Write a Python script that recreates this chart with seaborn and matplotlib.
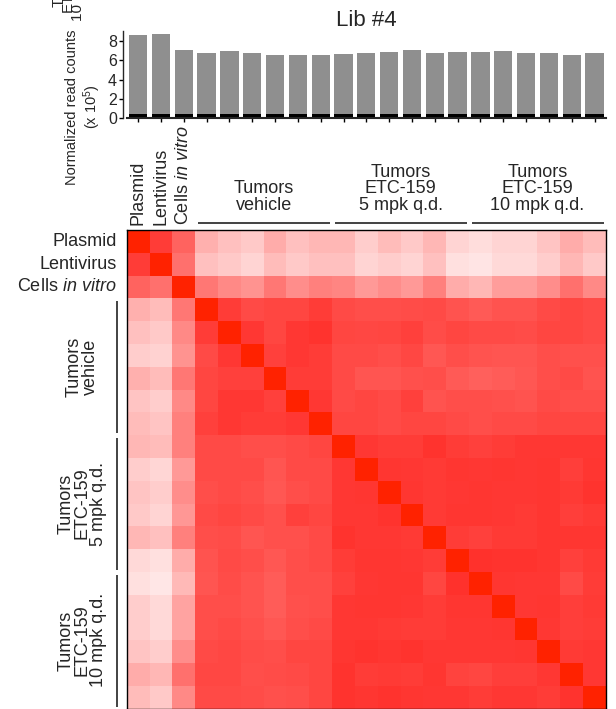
import numpy as np
import pandas as pd
import matplotlib
matplotlib.use("Agg")
import matplotlib.pyplot as plt
import seaborn as sns
from matplotlib.colors import LinearSegmentedColormap

# samples (bars and heatmap rows/columns share the same order)
samples = ["Plasmid", "Lentivirus", "Cells in vitro",
           "Veh 1", "Veh 2", "Veh 3", "Veh 4", "Veh 5", "Veh 6",
           "ETC5 1", "ETC5 2", "ETC5 3", "ETC5 4", "ETC5 5", "ETC5 6",
           "ETC10 1", "ETC10 2", "ETC10 3", "ETC10 4", "ETC10 5", "ETC10 6"]
row_labels = ["Plasmid", "Lentivirus", "Cells $\\mathit{in\\ vitro}$"]

# normalized read counts (x 10^5)
total_counts = [8.7, 8.8, 7.1, 6.8, 7.0, 6.8, 6.6, 6.6, 6.6, 6.7, 6.8,
                6.9, 7.1, 6.8, 6.9, 6.9, 7.0, 6.8, 6.8, 6.6, 6.8]
low_counts = [0.4, 0.4, 0.4, 0.4, 0.4, 0.4, 0.4, 0.4, 0.4, 0.4, 0.4,
              0.4, 0.4, 0.4, 0.4, 0.4, 0.4, 0.4, 0.4, 0.4, 0.4]

# groups: label, first index, last index (exclusive)
groups = [("Tumors\nvehicle", 3, 9),
          ("Tumors\nETC-159\n5 mpk q.d.", 9, 15),
          ("Tumors\nETC-159\n10 mpk q.d.", 15, 21)]

# sample-sample similarity
corr = [
    [1.00, 0.86, 0.69, 0.35, 0.28, 0.24, 0.37, 0.28, 0.32, 0.32, 0.22, 0.30, 0.24, 0.32, 0.19, 0.15, 0.19, 0.19, 0.26, 0.37, 0.30],
    [0.86, 1.00, 0.63, 0.28, 0.24, 0.19, 0.30, 0.24, 0.28, 0.28, 0.19, 0.22, 0.19, 0.28, 0.14, 0.12, 0.17, 0.17, 0.22, 0.32, 0.24],
    [0.69, 0.63, 1.00, 0.60, 0.52, 0.48, 0.60, 0.50, 0.56, 0.54, 0.45, 0.50, 0.45, 0.56, 0.37, 0.32, 0.43, 0.43, 0.50, 0.63, 0.52],
    [0.35, 0.30, 0.60, 1.00, 0.86, 0.80, 0.82, 0.82, 0.86, 0.80, 0.78, 0.78, 0.79, 0.80, 0.76, 0.73, 0.76, 0.76, 0.80, 0.82, 0.80],
    [0.28, 0.24, 0.52, 0.86, 1.00, 0.88, 0.82, 0.88, 0.90, 0.82, 0.81, 0.82, 0.84, 0.79, 0.82, 0.80, 0.80, 0.79, 0.82, 0.82, 0.80],
    [0.22, 0.20, 0.48, 0.80, 0.88, 1.00, 0.84, 0.88, 0.86, 0.80, 0.80, 0.78, 0.81, 0.74, 0.78, 0.76, 0.75, 0.75, 0.78, 0.77, 0.77],
    [0.35, 0.30, 0.60, 0.82, 0.84, 0.84, 1.00, 0.86, 0.86, 0.80, 0.75, 0.75, 0.77, 0.78, 0.73, 0.70, 0.72, 0.74, 0.78, 0.80, 0.76],
    [0.26, 0.22, 0.52, 0.82, 0.88, 0.88, 0.84, 1.00, 0.88, 0.80, 0.82, 0.80, 0.84, 0.76, 0.78, 0.78, 0.77, 0.76, 0.80, 0.78, 0.78],
    [0.30, 0.26, 0.56, 0.84, 0.88, 0.86, 0.86, 0.88, 1.00, 0.82, 0.82, 0.80, 0.82, 0.82, 0.80, 0.78, 0.80, 0.80, 0.82, 0.82, 0.82],
    [0.32, 0.30, 0.56, 0.80, 0.80, 0.78, 0.78, 0.80, 0.82, 1.00, 0.88, 0.86, 0.86, 0.90, 0.86, 0.84, 0.86, 0.88, 0.88, 0.88, 0.88],
    [0.22, 0.18, 0.45, 0.80, 0.80, 0.80, 0.75, 0.80, 0.80, 0.88, 1.00, 0.89, 0.88, 0.87, 0.89, 0.88, 0.89, 0.88, 0.89, 0.85, 0.89],
    [0.26, 0.22, 0.50, 0.78, 0.80, 0.78, 0.74, 0.78, 0.80, 0.88, 0.89, 1.00, 0.89, 0.87, 0.88, 0.89, 0.88, 0.88, 0.89, 0.87, 0.90],
    [0.24, 0.19, 0.46, 0.80, 0.82, 0.80, 0.77, 0.84, 0.82, 0.88, 0.88, 0.90, 1.00, 0.87, 0.89, 0.89, 0.88, 0.87, 0.89, 0.85, 0.87],
    [0.32, 0.28, 0.56, 0.78, 0.79, 0.75, 0.77, 0.77, 0.80, 0.90, 0.88, 0.88, 0.87, 1.00, 0.86, 0.84, 0.87, 0.87, 0.89, 0.89, 0.89],
    [0.17, 0.14, 0.37, 0.76, 0.80, 0.78, 0.74, 0.78, 0.80, 0.86, 0.89, 0.89, 0.88, 0.86, 1.00, 0.91, 0.90, 0.90, 0.89, 0.84, 0.87],
    [0.14, 0.11, 0.31, 0.75, 0.79, 0.76, 0.72, 0.78, 0.78, 0.84, 0.88, 0.89, 0.89, 0.82, 0.91, 1.00, 0.89, 0.88, 0.88, 0.80, 0.86],
    [0.22, 0.17, 0.41, 0.78, 0.78, 0.76, 0.72, 0.77, 0.78, 0.88, 0.89, 0.89, 0.88, 0.86, 0.89, 0.89, 1.00, 0.88, 0.89, 0.85, 0.87],
    [0.22, 0.17, 0.41, 0.78, 0.80, 0.77, 0.74, 0.78, 0.80, 0.88, 0.88, 0.87, 0.86, 0.86, 0.88, 0.88, 0.89, 1.00, 0.88, 0.85, 0.86],
    [0.26, 0.22, 0.50, 0.80, 0.81, 0.79, 0.78, 0.82, 0.82, 0.89, 0.90, 0.89, 0.90, 0.88, 0.88, 0.88, 0.88, 0.89, 1.00, 0.87, 0.88],
    [0.37, 0.32, 0.63, 0.81, 0.81, 0.78, 0.79, 0.80, 0.82, 0.90, 0.86, 0.87, 0.86, 0.89, 0.83, 0.82, 0.85, 0.85, 0.88, 1.00, 0.88],
    [0.30, 0.24, 0.52, 0.80, 0.80, 0.79, 0.77, 0.78, 0.82, 0.90, 0.89, 0.90, 0.89, 0.88, 0.88, 0.86, 0.88, 0.88, 0.86, 0.90, 1.00],
]

sns.set_style("ticks")
plt.rcParams["font.family"] = ["Liberation Sans", "DejaVu Sans"]
plt.rcParams["mathtext.fontset"] = "custom"
plt.rcParams["mathtext.rm"] = "Liberation Sans"
plt.rcParams["mathtext.it"] = "Liberation Sans:italic"

fig = plt.figure(figsize=(6.16, 7.09), dpi=100)
ax_bar = fig.add_axes([0.2057, 0.8336, 0.778, 0.1231])
ax_hm = fig.add_axes([0.2057, 0.0003, 0.778, 0.6753])

# --- bar chart of read counts
df_bar = pd.DataFrame({"sample": samples, "total": total_counts, "low": low_counts})
sns.barplot(data=df_bar, x="sample", y="total", color="#8f8f8f", saturation=1,
            width=0.8, linewidth=0, ax=ax_bar)
sns.barplot(data=df_bar, x="sample", y="low", color="black", saturation=1,
            width=0.8, linewidth=0, ax=ax_bar)
ax_bar.set_xlim(-0.5, len(samples) - 0.5)
ax_bar.set_ylim(0, 9.1)
ax_bar.set_yticks([0, 2, 4, 6, 8])
ax_bar.set_xticklabels([])
ax_bar.set_xlabel("")
ax_bar.set_ylabel("")
ax_bar.tick_params(axis="x", length=3, width=1, color="black")
ax_bar.tick_params(axis="y", length=3, width=1, labelsize=11.5, pad=1, color="black")
sns.despine(ax=ax_bar)
ax_bar.spines["left"].set_position(("outward", 3))
ax_bar.spines["left"].set_linewidth(1)
ax_bar.spines["bottom"].set_linewidth(1.5)
ax_bar.set_title("Lib #4", fontsize=16, pad=0)

fig.text(84 / 616, 1 - 107 / 709, "Normalized read counts\n(x 10$^5$)", rotation=90,
         ha="center", va="center", fontsize=10.5, multialignment="center")

# cut-off label from the panel above
fig.text(68 / 616, 1 - 20.7 / 709, "Tumors\nETC-159\n10 mpk q.d.", rotation=90,
         ha="center", va="bottom", multialignment="center", fontsize=11, linespacing=0.6)

# --- heatmap
cmap = LinearSegmentedColormap.from_list(
    "white_red", [(0.0, "#ffffff"), (0.95, "#ff2823"), (1.0, "#ff2200")])
df_corr = pd.DataFrame(np.array(corr), index=samples, columns=samples)
sns.heatmap(df_corr, cmap=cmap, vmin=0, vmax=1, cbar=False,
            xticklabels=False, yticklabels=False, ax=ax_hm)
ax_hm.tick_params(length=0)
for sp in ax_hm.spines.values():
    sp.set_visible(True)
    sp.set_linewidth(1)
    sp.set_color("black")

fs = 13
for i, lab in enumerate(row_labels):
    ax_hm.text(-0.45, i + 0.5, lab, ha="right", va="center", fontsize=fs)
    ax_hm.text(i + 0.5, -0.22, lab, ha="center", va="bottom", rotation=90, fontsize=fs)

for lab, g0, g1 in groups:
    mid = (g0 + g1) / 2
    # top
    ax_hm.text(mid, -0.72, lab, ha="center", va="bottom", multialignment="center",
               fontsize=fs, linespacing=0.95)
    ax_hm.plot([g0 + 0.12, g1 - 0.1], [-0.32, -0.32], color="#222222", lw=1.2,
               clip_on=False, solid_capstyle="butt")
    # left
    ax_hm.text(-1.96, mid, lab, ha="center", va="center", rotation=90,
               multialignment="center", fontsize=fs, linespacing=0.95)
    ax_hm.plot([-0.41, -0.41], [g0 + 0.12, g1 - 0.1], color="#222222", lw=1.2,
               clip_on=False, solid_capstyle="butt")

fig.savefig("out.png", dpi=100)
